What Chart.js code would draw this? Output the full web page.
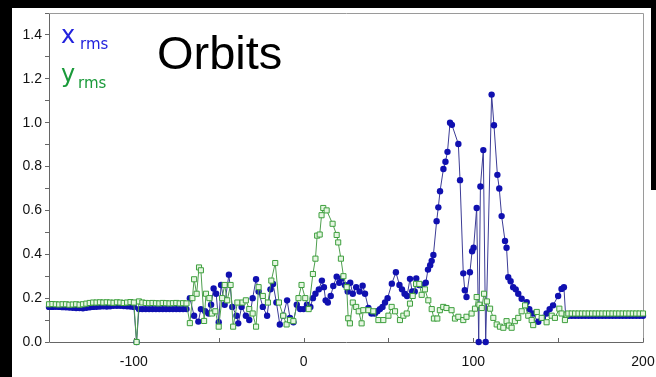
<!DOCTYPE html>
<html lang="en">
<head>
<meta charset="UTF-8">
<title>Orbits</title>
<script src="https://cdn.jsdelivr.net/npm/chart.js"></script>
<style>
    body { margin: 0; background: #000; width: 656px; height: 377px; overflow: hidden; position: relative; }
    #sheet { position: absolute; left: 12px; top: 8px; width: 644px; height: 369px; background: #fff; }
    #edge { position: absolute; left: 651px; top: 0; width: 5px; height: 190px; background: #000; }
    .lbl { position: absolute; line-height: 1; white-space: nowrap; }
    #title { left: 157px; top: 25px; font: 47px "Liberation Sans", Arial, sans-serif; color: #000; }
    .big { font: 24px "DejaVu Sans", sans-serif; }
    .sub { font: 15px "DejaVu Sans", sans-serif; }
</style>
</head>
<body>
<div id="sheet">
    <canvas id="orbit-chart"></canvas>
</div>
<div id="edge"></div>
<div class="lbl" id="title">Orbits</div>
<div class="lbl big" style="left:61px;top:21px;color:#2222dd">x</div>
<div class="lbl sub" style="left:80px;top:35px;color:#2222dd">rms</div>
<div class="lbl big" style="left:61px;top:60px;color:#1a9a3a">y</div>
<div class="lbl sub" style="left:78px;top:74px;color:#1a9a3a">rms</div>
<script>
    // position along the line (m) and rms orbit (mm), horizontal plane
    const xPos = [
        -150, -148, -146, -144, -142, -140, -138, -136, -134, -132, -130, -128, -126,
        -124, -122, -120, -118, -116, -114, -112, -110, -108, -106, -104, -102, -100,
        -98.4,
        -97, -95, -93, -91, -89, -87, -85, -83, -81, -79, -77, -75, -73, -71, -69,
        -67, -64.5, -62, -60.5, -58, -56, -54.5, -53, -51.5, -50, -48.6, -46.5, -44, -42,
        -39.5, -38.5, -36.5, -34, -32, -30, -28, -26.5, -24, -21.5, -19.5, -18, -16, -14,
        -12, -9.7, -8, -6, -4, -2, 0, 2, 4, 5.5, 7, 9, 10.8, 12, 13, 14.3, 16, 17.5,
        19.5, 21, 22.5, 24.4, 26, 27.5, 29, 31, 33, 34.8, 36.2, 38.2, 40, 42, 43.5, 45,
        46.5, 48, 49.5, 52, 54.4, 56.5, 58, 59.5, 61, 62.7, 64, 65.5, 66.4, 68, 70, 72,
        73.3, 74.6, 75.5, 76.5, 78.4, 79.4, 80.4, 82.4, 83.6, 84.8, 86.3, 87.4, 91.2, 92.2,
        94.1, 95, 96, 98, 99.3, 100.2, 102, 103.2, 104.2, 105.9, 107.3, 110.8, 112.2,
        114.2, 115.3, 116.7, 118.7, 119.6, 120.6, 122, 123.5, 125, 126.5, 128.5, 131.5,
        133, 135, 138.3, 141, 143.2, 145, 147, 150, 152, 153.4, 154.4,
        156, 158, 160, 162, 164, 166, 168, 170, 172, 174, 176, 178, 180, 182, 184, 186,
        188, 190, 192, 194, 196, 198, 200
    ];
    const xRms = [
        0.160, 0.160, 0.161, 0.160, 0.159, 0.158, 0.157, 0.156, 0.155, 0.155, 0.154, 0.156, 0.158,
        0.160, 0.161, 0.162, 0.163, 0.162, 0.163, 0.165, 0.165, 0.165, 0.164, 0.163, 0.162, 0.160,
        0.0,
        0.150, 0.150, 0.150, 0.150, 0.150, 0.150, 0.150, 0.150, 0.150, 0.150, 0.150, 0.150, 0.150, 0.150, 0.150,
        0.20, 0.12, 0.093, 0.15, 0.14, 0.13, 0.17, 0.244, 0.22, 0.09, 0.26, 0.17, 0.307, 0.16,
        0.12, 0.085, 0.16, 0.12, 0.10, 0.20, 0.286, 0.23, 0.16, 0.12, 0.24, 0.265, 0.18, 0.08,
        0.12, 0.19, 0.11, 0.09, 0.17, 0.15, 0.15, 0.17, 0.16, 0.20, 0.22, 0.24, 0.28, 0.25, 0.19, 0.18, 0.21, 0.255,
        0.298, 0.27, 0.29, 0.26, 0.23, 0.27, 0.22, 0.25, 0.23, 0.257, 0.22, 0.155, 0.13, 0.13, 0.14, 0.15,
        0.16, 0.18, 0.20, 0.266, 0.318, 0.26, 0.24, 0.22, 0.21, 0.288, 0.23, 0.23, 0.29, 0.26, 0.26, 0.27,
        0.33, 0.35, 0.37, 0.397, 0.551, 0.614, 0.687, 0.789, 0.822, 0.867, 1.0, 0.99, 0.903, 0.738,
        0.313, 0.236, 0.205, 0.318, 0.414, 0.43, 0.611, 0.0, 0.709, 0.875, 0.0, 1.128, 0.988,
        0.762, 0.70, 0.574, 0.461, 0.43, 0.295, 0.277, 0.25, 0.24, 0.22, 0.197, 0.182,
        0.15, 0.13, 0.092, 0.11, 0.13, 0.15, 0.167, 0.21, 0.242, 0.25, 0.122,
        0.120, 0.120, 0.120, 0.120, 0.120, 0.120, 0.120, 0.120, 0.120, 0.120, 0.120, 0.120, 0.120, 0.120, 0.120, 0.120,
        0.120, 0.120, 0.120, 0.120, 0.120, 0.120, 0.120
    ];

    // vertical plane
    const yPos = [
        -150, -148, -146, -144, -142, -140, -138, -136, -134, -132, -130, -128, -126,
        -124, -122, -120, -118, -116, -114, -112, -110, -108, -106, -104, -102, -100,
        -98.4,
        -97, -95, -93, -91, -89, -87, -85, -83, -81, -79, -77, -75, -73, -71, -69,
        -67, -65.5, -64.5, -63, -61.6, -60.5, -58.6, -57.5, -55.5, -54, -52, -50, -48, -46.5,
        -45, -43, -41.5, -39, -36, -34, -32, -30, -28, -26.5, -24, -21, -19, -16.7, -14.5,
        -12, -10, -8, -6, -3, -1.2, 1, 3, 5.5, 7, 8, 9.5, 10.6, 11.6, 13.6, 17.1, 19.5,
        20.4, 22, 23.5, 25.4, 26.3, 27.3, 29, 31, 32.5, 34.2, 35.2, 38.2, 41.1, 44.1, 47,
        50, 51.9, 53.9, 56.8, 58.8, 60.8, 62.7, 64.3, 66.3, 68.2, 69.6, 71.5, 73.5, 75.5,
        76.8, 78.8, 80.3, 82.3, 84.2, 87.2, 89.2, 91.2, 94.1, 96, 99, 101, 102, 103.6, 105,
        106.3, 108, 109.9, 111.8, 113.8, 115.7, 117.7, 119.6, 121, 122.6, 124.5, 126.5,
        128.5, 130.5, 132.4, 134.4, 135.3, 137.4, 140.3, 143.2, 146.2, 148.1, 150.7, 152,
        154, 155,
        156, 158, 160, 162, 164, 166, 168, 170, 172, 174, 176, 178, 180, 182, 184, 186,
        188, 190, 192, 194, 196, 198, 200
    ];
    const yRms = [
        0.172, 0.173, 0.172, 0.171, 0.172, 0.172, 0.170, 0.171, 0.172, 0.170, 0.172, 0.175, 0.178,
        0.180, 0.180, 0.181, 0.180, 0.181, 0.180, 0.179, 0.181, 0.180, 0.178, 0.180, 0.182, 0.180,
        0.0,
        0.185, 0.180, 0.178, 0.177, 0.178, 0.177, 0.176, 0.178, 0.177, 0.176, 0.177, 0.178, 0.176, 0.177, 0.176,
        0.086, 0.20, 0.286, 0.22, 0.34, 0.327, 0.096, 0.22, 0.20, 0.13, 0.14, 0.07, 0.20, 0.26,
        0.19, 0.26, 0.07, 0.18, 0.18, 0.19, 0.15, 0.13, 0.07, 0.25, 0.21, 0.18, 0.28, 0.36, 0.18,
        0.12, 0.08, 0.10, 0.095, 0.20, 0.26, 0.20, 0.15, 0.31, 0.38, 0.485, 0.49, 0.578, 0.611, 0.60, 0.539, 0.488,
        0.454, 0.38, 0.30, 0.25, 0.108, 0.085, 0.18, 0.16, 0.14, 0.085, 0.145, 0.145, 0.14, 0.10, 0.10,
        0.12, 0.16, 0.14, 0.10, 0.12, 0.13, 0.175, 0.21, 0.265, 0.265, 0.215, 0.24, 0.19, 0.15,
        0.107, 0.107, 0.145, 0.16, 0.155, 0.145, 0.107, 0.115, 0.10, 0.115, 0.13, 0.152, 0.205, 0.17, 0.155,
        0.22, 0.185, 0.152, 0.11, 0.08, 0.07, 0.065, 0.095, 0.075, 0.065, 0.095, 0.11,
        0.14, 0.167, 0.12, 0.10, 0.077, 0.137, 0.11, 0.09, 0.12, 0.11, 0.152, 0.13,
        0.10, 0.125,
        0.130, 0.130, 0.130, 0.130, 0.130, 0.130, 0.130, 0.130, 0.130, 0.130, 0.130, 0.130, 0.130, 0.130, 0.130, 0.130,
        0.130, 0.130, 0.130, 0.130, 0.130, 0.130, 0.130
    ];

    const xRange = [-150, 200];
    const yRange = [0, 1.5];

    const toPoints = (pos, vals) => pos.map((p, i) => ({x: p, y: vals[i]}));

    // box round the plot, and x ticks pointing into it
    const frame = {
        id: 'frame',
        beforeDatasetsDraw(chart) {
            const {ctx, chartArea: a, scales: {x}} = chart;
            ctx.save();
            ctx.lineWidth = 1;
            ctx.strokeStyle = '#9a9a9a';
            ctx.beginPath();
            ctx.moveTo(a.left + 0.5, a.top + 0.5);
            ctx.lineTo(a.right + 0.5, a.top + 0.5);
            ctx.lineTo(a.right + 0.5, a.bottom + 0.5);
            ctx.stroke();
            ctx.strokeStyle = '#666';
            ctx.beginPath();
            ctx.moveTo(a.left + 0.5, a.top + 0.5);
            ctx.lineTo(a.left + 0.5, a.bottom + 0.5);
            ctx.lineTo(a.right + 0.5, a.bottom + 0.5);
            ctx.stroke();
            x.ticks.forEach(t => {
                const px = Math.round(x.getPixelForValue(t.value)) + 0.5;
                ctx.beginPath();
                ctx.moveTo(px, a.bottom);
                ctx.lineTo(px, a.bottom - 4);
                ctx.stroke();
            });
            ctx.restore();
        }
    };

    new Chart(document.getElementById('orbit-chart'), {
        type: 'scatter',
        data: {
            datasets: [{
                label: 'x rms',
                data: toPoints(xPos, xRms),
                showLine: true,
                borderColor: '#3c3c96',
                borderWidth: 1,
                pointRadius: 3.2,
                pointBackgroundColor: '#1010b0',
                pointBorderColor: '#1010b0',
                pointBorderWidth: 0,
                clip: false,
                order: 2
            }, {
                label: 'y rms',
                data: toPoints(yPos, yRms),
                showLine: true,
                borderColor: '#4f9f4f',
                borderWidth: 1,
                pointStyle: 'rect',
                pointRadius: 3.6,
                pointBackgroundColor: '#e6f6e2',
                pointBorderColor: '#3d9f3d',
                pointBorderWidth: 1,
                clip: false,
                order: 1
            }]
        },
        options: {
            responsive: true,
            maintainAspectRatio: false,
            animation: false,
            layout: {padding: {top: 1, right: 13, left: 0, bottom: 0}},
            plugins: {legend: {display: false}, tooltip: {enabled: false}},
            scales: {
                x: {
                    type: 'linear',
                    min: xRange[0],
                    max: xRange[1],
                    border: {display: false},
                    grid: {display: false, drawTicks: false},
                    afterFit: s => {
                        s.height = 35;
                        s.paddingLeft = 0;
                        s.paddingRight = 0;
                    },
                    ticks: {
                        stepSize: 50,
                        autoSkip: false,
                        maxRotation: 0,
                        padding: 12,
                        color: '#111',
                        font: {family: 'Liberation Sans', size: 14},
                        callback: v => (v % 100 === 0 ? String(v) : '')
                    }
                },
                y: {
                    min: yRange[0],
                    max: yRange[1],
                    border: {display: false},
                    grid: {drawOnChartArea: false, tickLength: 4, color: '#666'},
                    afterFit: s => {
                        s.width = 37;
                        s.paddingTop = 0;
                        s.paddingBottom = 0;
                    },
                    ticks: {
                        stepSize: 0.1,
                        autoSkip: false,
                        padding: 3,
                        color: '#111',
                        font: {family: 'Liberation Sans', size: 14},
                        callback: v => (Math.round(v * 10) % 2 === 0 ? v.toFixed(1) : '')
                    }
                }
            }
        },
        plugins: [frame]
    });
</script>
</body>
</html>
